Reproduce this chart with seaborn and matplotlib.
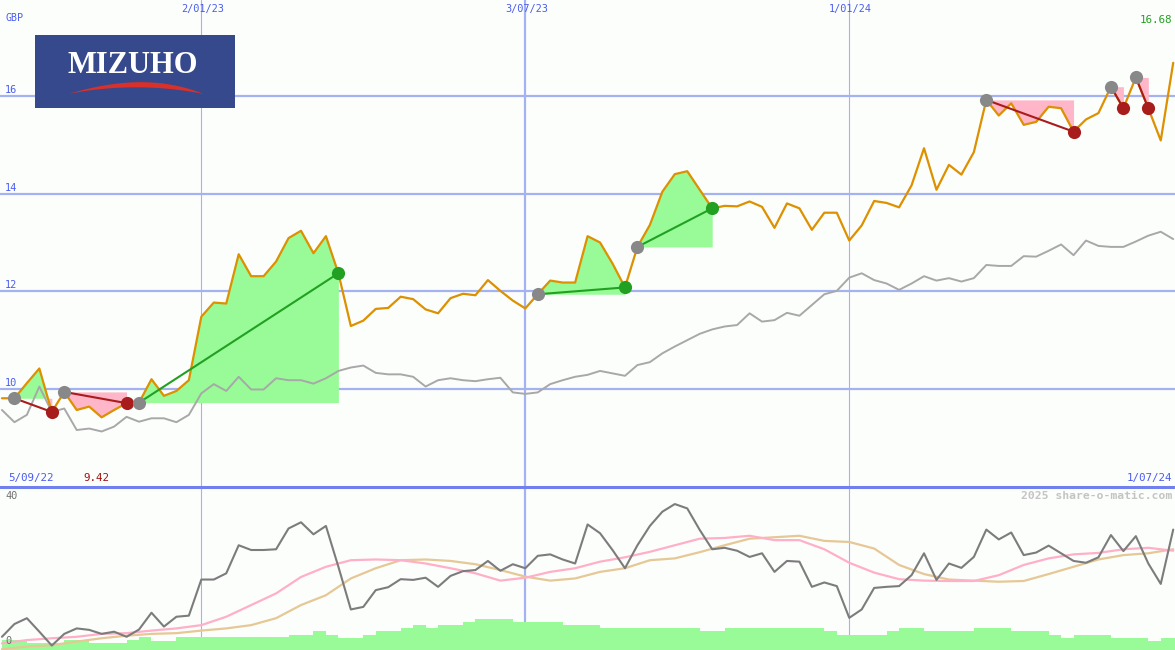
import numpy as np
import pandas as pd
import matplotlib
matplotlib.use('Agg')
import matplotlib.pyplot as plt
import matplotlib.dates as mdates
from matplotlib.lines import Line2D
import seaborn as sns

sns.set_style('white')
plt.rcParams['font.family'] = ['DejaVu Sans Mono', 'DejaVu Sans']

# weekly closes, GBP
dates = pd.date_range('2022-09-12', periods=95, freq='7D')
price = [9.81, 9.81, 10.12, 10.42, 9.53, 9.94, 9.57, 9.64, 9.42, 9.57,
         9.71, 9.72, 10.20, 9.86, 9.96, 10.18, 11.48, 11.77, 11.75, 12.76,
         12.31, 12.31, 12.61, 13.09, 13.24, 12.78, 13.13, 12.37, 11.29, 11.40,
         11.64, 11.66, 11.89, 11.84, 11.63, 11.55, 11.86, 11.95, 11.92, 12.23,
         12.01, 11.81, 11.65, 11.94, 12.22, 12.18, 12.18, 13.13, 13.00, 12.57,
         12.08, 12.91, 13.36, 14.04, 14.40, 14.46, 14.08, 13.70, 13.75, 13.74,
         13.84, 13.73, 13.30, 13.80, 13.70, 13.26, 13.61, 13.61, 13.04, 13.35,
         13.85, 13.81, 13.72, 14.17, 14.93, 14.08, 14.59, 14.39, 14.85, 15.92,
         15.60, 15.85, 15.41, 15.47, 15.78, 15.75, 15.27, 15.52, 15.65, 16.19,
         15.75, 16.38, 15.75, 15.09, 16.68]
bench = [9.57, 9.32, 9.47, 10.05, 9.53, 9.60, 9.16, 9.19, 9.13, 9.23,
         9.43, 9.33, 9.40, 9.40, 9.32, 9.47, 9.91, 10.10, 9.96, 10.25,
         9.99, 9.99, 10.22, 10.18, 10.18, 10.11, 10.22, 10.37, 10.44, 10.48,
         10.33, 10.30, 10.30, 10.25, 10.05, 10.18, 10.22, 10.18, 10.16, 10.20,
         10.23, 9.93, 9.90, 9.93, 10.10, 10.18, 10.25, 10.29, 10.37, 10.32,
         10.27, 10.49, 10.55, 10.73, 10.87, 11.00, 11.13, 11.22, 11.28, 11.31,
         11.55, 11.38, 11.41, 11.56, 11.50, 11.72, 11.94, 12.01, 12.28, 12.37,
         12.23, 12.16, 12.03, 12.16, 12.31, 12.22, 12.27, 12.20, 12.27, 12.54,
         12.52, 12.52, 12.72, 12.71, 12.83, 12.96, 12.74, 13.04, 12.93, 12.91,
         12.91, 13.02, 13.14, 13.22, 13.07]
oscillator = [2.8, 6.3, 7.9, 4.2, 0.4, 3.6, 5.1, 4.7, 3.6, 4.2,
              2.8, 4.8, 9.4, 5.6, 8.3, 8.6, 18.5, 18.5, 20.2, 27.9,
              26.6, 26.6, 26.8, 32.5, 34.2, 30.9, 33.2, 22.0, 10.3, 11.0,
              15.6, 16.4, 18.6, 18.4, 19.0, 16.5, 19.5, 20.8, 21.1, 23.6,
              20.9, 22.7, 21.6, 25.0, 25.4, 24.0, 22.9, 33.6, 31.2, 26.6,
              21.6, 27.9, 33.2, 37.1, 39.2, 38.0, 32.1, 26.8, 27.2, 26.4,
              24.7, 25.7, 20.6, 23.6, 23.4, 16.5, 17.7, 16.7, 8.0, 10.3,
              16.2, 16.5, 16.7, 19.7, 25.7, 18.4, 22.9, 21.7, 24.7, 32.2,
              29.5, 31.4, 25.2, 25.9, 27.8, 25.7, 23.6, 23.1, 24.6, 30.7,
              26.3, 30.4, 22.9, 17.3, 32.2]
# smoothed averages, read every second week
avg_fast = [1.0, 1.9, 2.4, 2.8, 3.6, 3.8, 4.5, 5.1, 6.0, 8.3,
            11.5, 14.7, 19.2, 22.0, 23.8, 24.0, 23.8, 22.9, 21.6, 20.2,
            18.2, 19.0, 20.6, 21.6, 23.4, 24.6, 26.1, 27.9, 29.7, 29.9,
            30.5, 29.3, 29.3, 26.8, 23.1, 20.4, 18.6, 18.2, 18.1, 18.1,
            19.7, 22.5, 24.3, 25.4, 25.8, 26.8, 27.2, 26.4]
avg_slow = [-0.6, 0.1, 0.5, 1.5, 2.4, 3.1, 3.6, 3.8, 4.5, 5.1,
            6.0, 7.9, 11.5, 14.2, 18.8, 21.6, 23.8, 24.0, 23.6, 22.7,
            21.1, 19.3, 18.2, 18.8, 20.6, 21.6, 23.8, 24.3, 26.0, 27.9,
            29.7, 30.1, 30.5, 29.1, 28.8, 27.0, 22.5, 20.0, 18.5, 18.2,
            17.9, 18.1, 20.0, 22.0, 24.0, 25.2, 25.7, 26.8]
volume = [10, 10, 6.7, 6.7, 6.7, 10, 10, 6.7, 6.7, 6.7,
          10, 12.7, 9.3, 9.3, 12.7, 12.7, 12.7, 12.7, 12.7, 12.7,
          12.7, 12.7, 12.7, 15, 15, 19, 15, 12.3, 12.3, 15,
          19, 19, 22.3, 25, 22.3, 25, 25, 27.7, 31, 31,
          31, 27.7, 27.7, 27.7, 27.7, 25, 25, 25, 22.3, 22.3,
          22.3, 22.3, 22.3, 22.3, 22.3, 22.3, 19, 19, 22.3, 22.3,
          22.3, 22.3, 22.3, 22.3, 22.3, 22.3, 19, 15, 15, 15,
          15, 19, 22.3, 22.3, 19, 19, 19, 19, 22.3, 22.3,
          22.3, 19, 19, 19, 15, 12.3, 15, 15, 15, 12.3,
          12.3, 12.3, 9.3, 12.3, 12.3]
# (entry week, exit week)
trades = [(1, 4), (5, 10), (11, 27), (43, 50), (51, 57), (79, 86), (89, 90), (91, 92)]
price_ticks = [10, 12, 14, 16]
marker_dates = pd.to_datetime(['2023-01-02', '2023-07-03', '2024-01-01'])
start_label = '5/09/22'

W, H = 1175, 650
bg = '#fcfefc'
grid_col = '#a4b2f2'
text_blue = '#4a5cf0'
up_col = '#22a022'
down_col = '#a81c1c'


def fmt_date(d):
    return '{}/{}'.format(d.day, d.strftime('%m/%y'))


def fig_text(px, py, s, **kw):
    fig.text(px / W, 1 - py / H, s, va='center', **kw)


fig = plt.figure(figsize=(W / 100, H / 100), dpi=100)
fig.patch.set_facecolor(bg)

x_left = mdates.date2num(dates[0]) - 1.1
x_right = mdates.date2num(dates[-1]) + 1.0

# ---- price panel
ax = fig.add_axes([0, 163 / H, 1, 487 / H], label='price')
ax.axis('off')
ax.set_xlim(x_left, x_right)
ax.set_ylim(7.993, 17.966)

for p in price_ticks:
    ax.axhline(p, color=grid_col, lw=1.6, zorder=1)
    ax.annotate(str(p), xy=(0, p), xycoords=('axes fraction', 'data'),
                xytext=(5, 6), textcoords='offset pixels', va='center',
                color=text_blue, fontsize=7.4)
for i, d in enumerate(marker_dates):
    ax.axvline(d, color=grid_col, lw=1.6 if i == 1 else 0.8, zorder=1)
    ax.annotate(fmt_date(d), xy=(d, 1), xycoords=('data', 'axes fraction'),
                xytext=(1, -9), textcoords='offset pixels', ha='center',
                va='center', color=text_blue, fontsize=7.4)

prices = np.array(price)
for a, b in trades:
    xs = dates[a:b + 1]
    ys = prices[a:b + 1]
    lvl = prices[a]
    ax.fill_between(xs, ys, lvl, where=ys >= lvl, interpolate=True,
                    color='#98fb98', lw=0, zorder=2)
    ax.fill_between(xs, ys, lvl, where=ys < lvl, interpolate=True,
                    color='#ffb6c8', lw=0, zorder=2)

sns.lineplot(x=dates, y=bench, ax=ax, color='#a8a8a8', lw=1.4, zorder=3)
sns.lineplot(x=dates, y=price, ax=ax, color='#dd9000', lw=1.6, zorder=4)

for a, b in trades:
    col = up_col if prices[b] > prices[a] else down_col
    ax.plot([dates[a], dates[b]], [prices[a], prices[b]], color=col, lw=1.5, zorder=5)
    ax.scatter([dates[a]], [prices[a]], s=90, color='#888888', lw=0, zorder=6)
    ax.scatter([dates[b]], [prices[b]], s=90, color=col, lw=0, zorder=6)
ax.axis('off')

# ---- lower panel: volume + oscillator
ax_vol = fig.add_axes([0, 0, 1, 162 / H], label='volume')
ax_vol.axis('off')
ax_vol.set_xlim(x_left, x_right)
ax_vol.set_ylim(0, 162)
for i, d in enumerate(marker_dates):
    ax_vol.axvline(d, color=grid_col, lw=1.6 if i == 1 else 0.8, zorder=0)
vol_x = list(dates) + [dates[-1] + pd.Timedelta(days=7)]
vol_y = volume + [volume[-1]]
ax_vol.fill_between(vol_x, 0, vol_y, step='post', color='#98fb98', lw=0, zorder=1)

ax_ind = fig.add_axes([0, 0, 1, 162 / H], label='indicator')
sns.lineplot(x=dates[::2], y=avg_slow, ax=ax_ind, color='#e6c896', lw=1.6)
sns.lineplot(x=dates[::2], y=avg_fast, ax=ax_ind, color='#ffb0c8', lw=1.6)
sns.lineplot(x=dates, y=oscillator, ax=ax_ind, color='#7c7c7c', lw=1.5)
ax_ind.set_xlim(x_left, x_right)
ax_ind.set_ylim(-0.82, 43.6)
ax_ind.axis('off')

fig.add_artist(Line2D([0, 1], [163 / H, 163 / H], color='#7080ee', lw=2.2,
                      transform=fig.transFigure))

# ---- labels
fig_text(5, 18, 'GBP', color=text_blue, fontsize=7.2)
fig_text(1172, 20, '{:.2f}'.format(price[-1]), ha='right', color=up_col, fontsize=7.8)
fig_text(8, 478, start_label, color=text_blue, fontsize=7.8)
fig_text(83, 478, '{:.2f}'.format(min(price)), color='#a01010', fontsize=7.8)
fig_text(1172, 478, fmt_date(dates[-1]), ha='right', color=text_blue, fontsize=7.8)
fig_text(5, 496, '40', color='#707070', fontsize=7.4)
fig_text(5, 641, '0', color='#707070', fontsize=7.4)
fig_text(1172, 496, '2025 share-o-matic.com', ha='right', color='#c4c4c4',
         fontsize=8.2, fontweight='bold')

# ---- logo
logo = fig.add_axes([35 / W, 1 - 108 / H, 200 / W, 73 / H], label='logo')
logo.set_facecolor('#36498c')
logo.set_xticks([])
logo.set_yticks([])
for s in logo.spines.values():
    s.set_visible(False)
logo.set_xlim(0, 1)
logo.set_ylim(0, 1)
logo.text(0.49, 0.58, 'MIZUHO', color='white', fontsize=22, fontweight='bold',
          family='Liberation Serif', ha='center', va='center')
t = np.linspace(-1, 1, 80)
sx = 0.165 + (t + 1) / 2 * 0.675
logo.fill_between(sx, 0.2 + 0.09 * (1 - t ** 2), 0.2 + 0.16 * (1 - t ** 2) * (1 + 0.15 * t),
                  color='#d9302a', lw=0)

fig.savefig('out.png', dpi=100, facecolor=bg)
